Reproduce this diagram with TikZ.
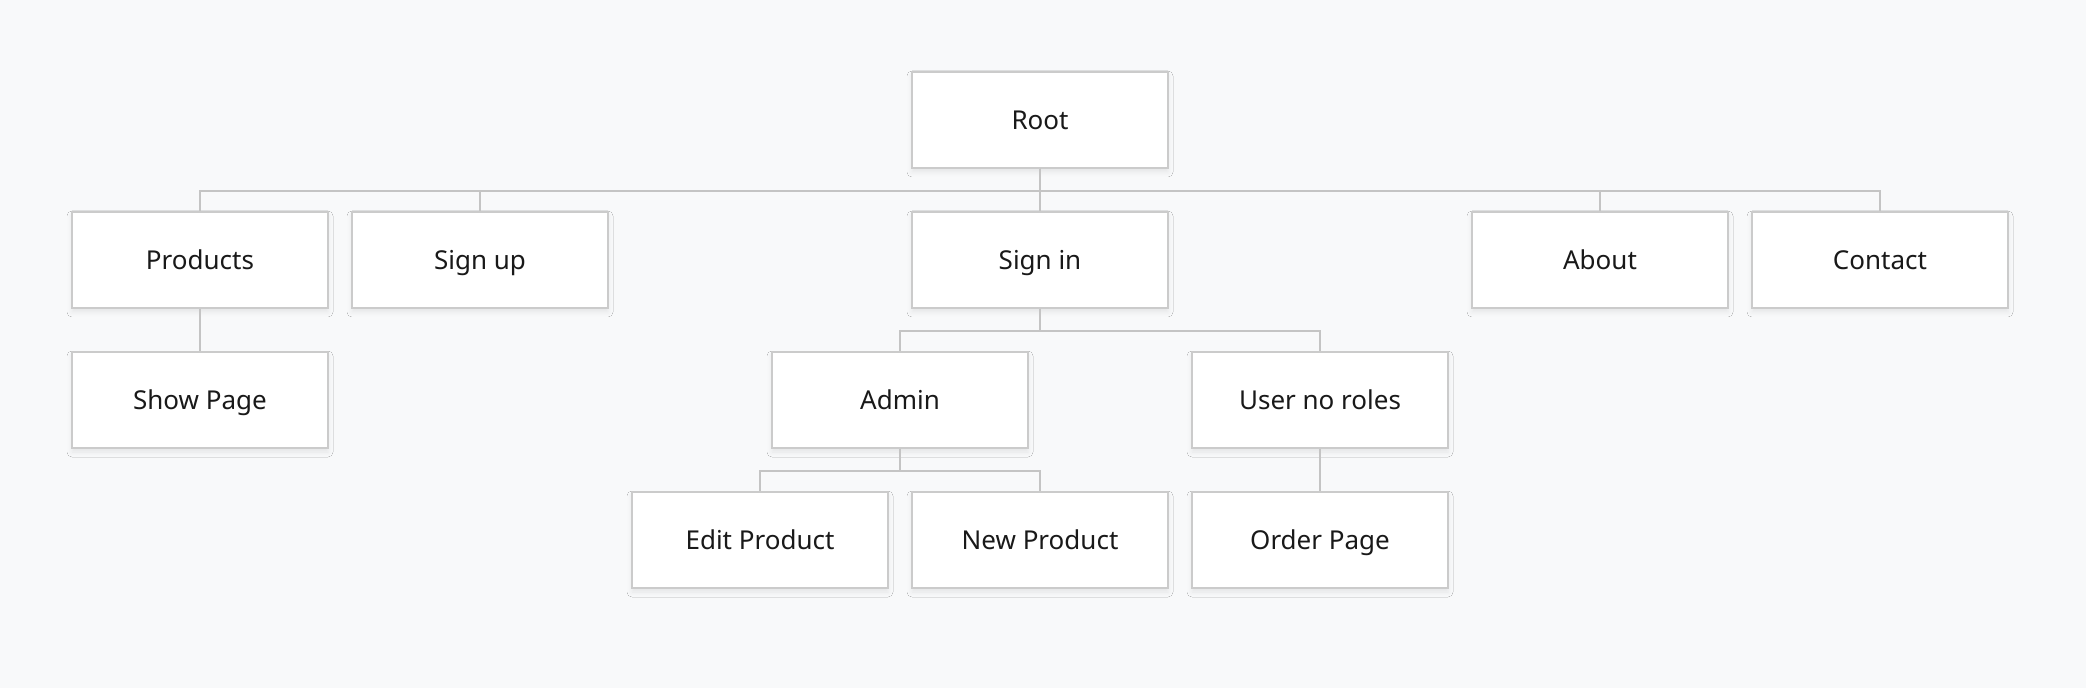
\documentclass[tikz,border=0pt]{standalone}
\usepackage{fontspec}
\setmainfont{Noto Sans}
\usetikzlibrary{positioning,shadows.blur}
\definecolor{pagebg}{HTML}{F8F9FA}
\definecolor{boxline}{HTML}{CBCBCB}
\definecolor{linkline}{HTML}{C4C4C4}

\begin{document}
\begin{tikzpicture}[x=0.5pt,y=-0.5pt,
  box/.style={draw=boxline,line width=1pt,fill=white,
    minimum width=128pt,minimum height=48pt,inner sep=0pt,
    text height=9.2pt,text depth=0pt,
    font=\fontsize{13}{15}\selectfont,text=black!90,
    blur shadow={shadow xshift=0pt,shadow yshift=-2pt,
      shadow blur radius=2.5pt,shadow opacity=8}},
  link/.style={draw=linkline,line width=1pt}]
  \fill[pagebg] (0,0) rectangle (2086,688);
  \useasboundingbox (0,0) rectangle (2086,688);

  % rows at 120, 260, 400, 540
  \node[box] (root)     at (1040,120) {Root};
  \node[box] (products) at (200,260)  {Products};
  \node[box] (signup)   at (480,260)  {Sign up};
  \node[box] (signin)   at (1040,260) {Sign in};
  \node[box] (about)    at (1600,260) {About};
  \node[box] (contact)  at (1880,260) {Contact};
  \node[box] (showpage) at (200,400)  {Show Page};
  \node[box] (admin)    at (900,400)  {Admin};
  \node[box] (user)     at (1320,400) {User no roles};
  \node[box] (edit)     at (760,540)  {Edit Product};
  \node[box] (new)      at (1040,540) {New Product};
  \node[box] (order)    at (1320,540) {Order Page};

  % bus heights
  \coordinate (busroot)  at (0,191);
  \coordinate (bussign)  at (0,331);
  \coordinate (busadmin) at (0,471);

  \foreach \c in {products,signup,signin,about,contact}{
    \draw[link] (root.south) -- (root.south |- busroot) -| (\c.north);
  }
  \foreach \c in {admin,user}{
    \draw[link] (signin.south) -- (signin.south |- bussign) -| (\c.north);
  }
  \foreach \c in {edit,new}{
    \draw[link] (admin.south) -- (admin.south |- busadmin) -| (\c.north);
  }
  \draw[link] (products) -- (showpage);
  \draw[link] (user) -- (order);
\end{tikzpicture}
\end{document}
